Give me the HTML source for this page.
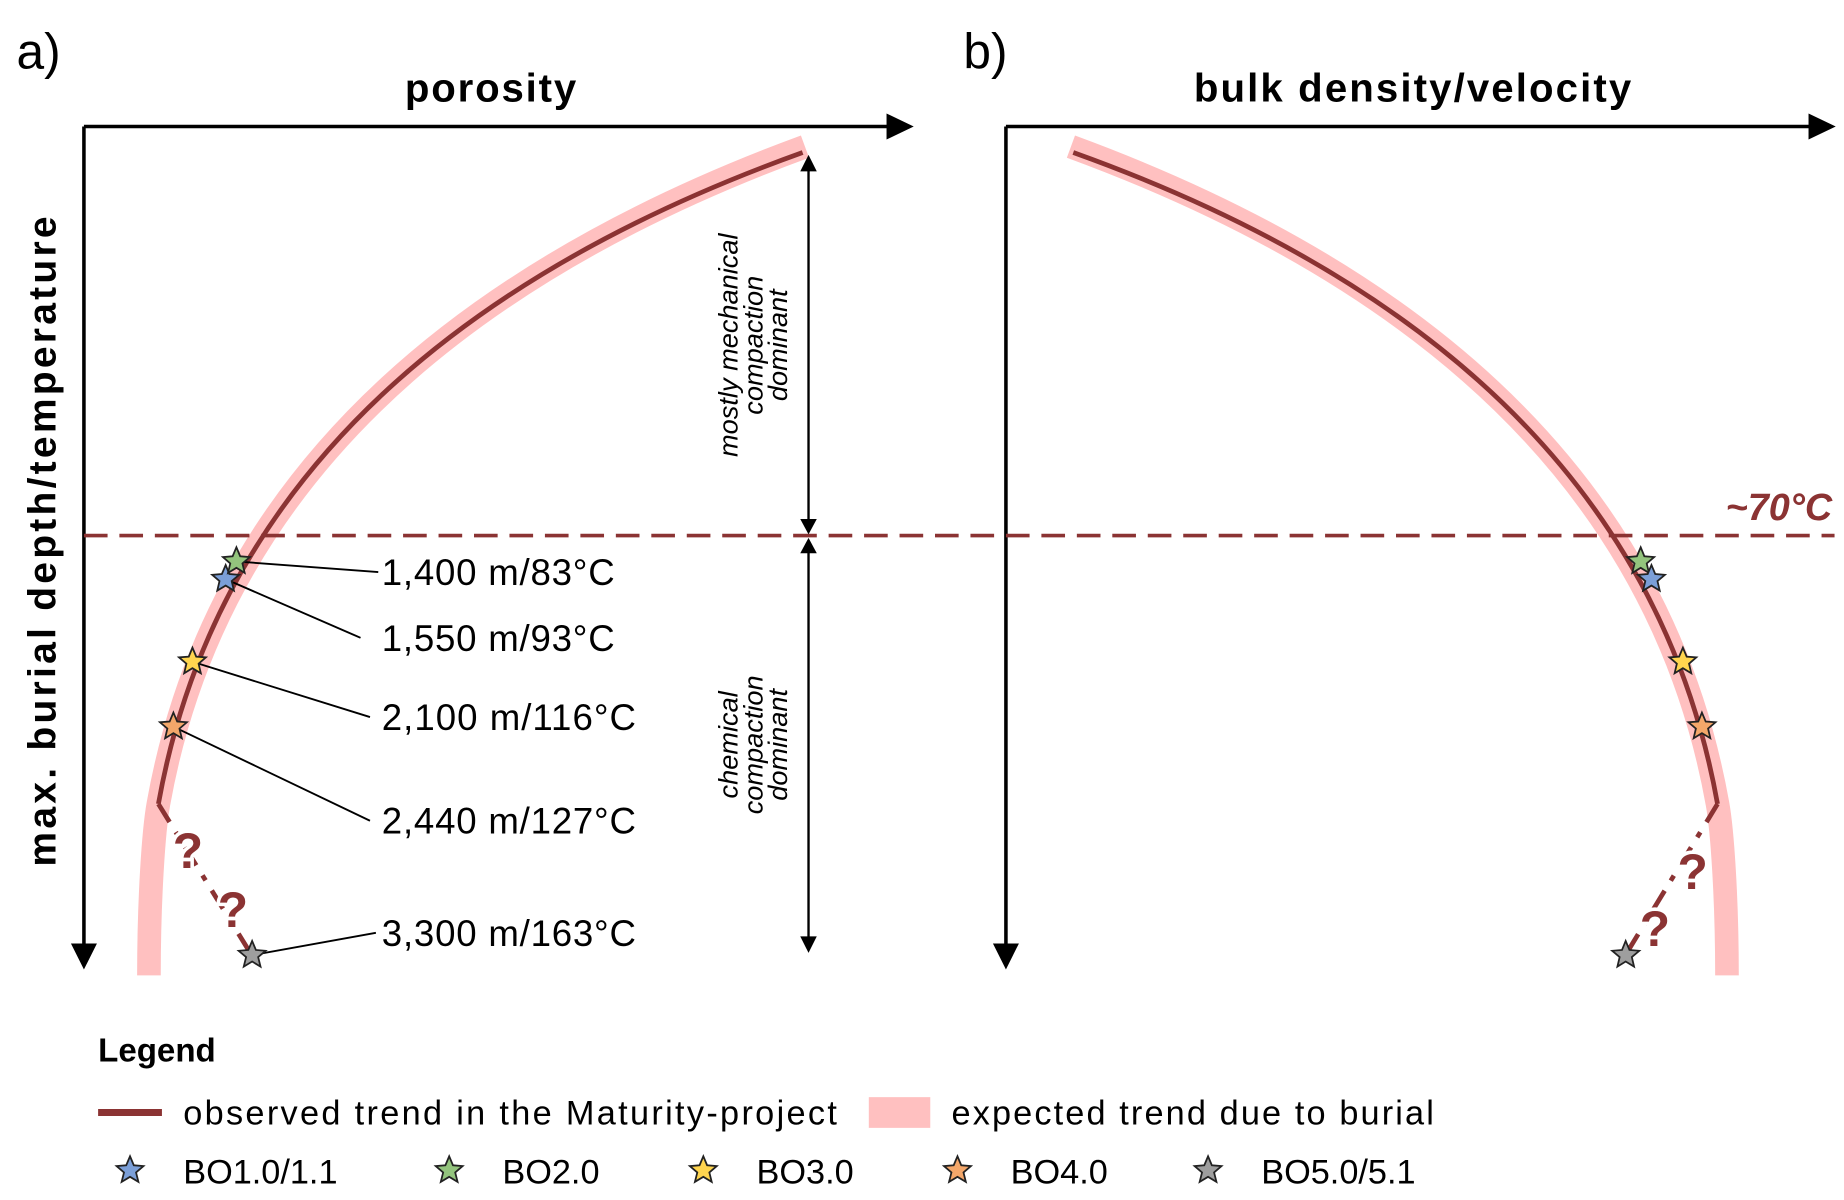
<!DOCTYPE html>
<html><head><meta charset="utf-8">
<style>
html,body{margin:0;padding:0;background:#fff;}
svg{display:block;}
text{font-family:"Liberation Sans",sans-serif;}
</style></head>
<body>
<svg id="chart" width="1844" height="1200" viewBox="0 0 1560 1015" preserveAspectRatio="none" xmlns="http://www.w3.org/2000/svg">
  <text x="14" y="58" font-size="42">a)</text>
  <text x="815" y="58" font-size="42">b)</text>
  <text x="415" y="86" font-size="34" font-weight="bold" text-anchor="middle" textLength="145">porosity</text>
  <text x="1195" y="86" font-size="34" font-weight="bold" text-anchor="middle" textLength="370">bulk density/velocity</text>
  <text transform="translate(47,458) rotate(-90)" font-size="33" font-weight="bold" text-anchor="middle" textLength="550">max. burial depth/temperature</text>

  <g stroke="#000" stroke-width="3" fill="none">
    <line x1="71" y1="107" x2="755" y2="107"/>
    <line x1="71" y1="107" x2="71" y2="802"/>
  </g>
  <polygon points="750,96 773,107 750,118" fill="#000"/>
  <polygon points="60,798 71,820 82,798" fill="#000"/>
  <g stroke="#000" stroke-width="3" fill="none">
    <line x1="851" y1="107" x2="1535" y2="107"/>
    <line x1="851" y1="107" x2="851" y2="802"/>
  </g>
  <polygon points="1530,96 1553,107 1530,118" fill="#000"/>
  <polygon points="840,798 851,820 862,798" fill="#000"/>

  <path id="bandA" stroke="#ffc0c0" stroke-width="20" fill="none"/>
  <path id="bandB" stroke="#ffc0c0" stroke-width="20" fill="none"/>

  <line x1="71" y1="453" x2="1552" y2="453" stroke="#8b3333" stroke-width="3" stroke-dasharray="20,10"/>
  <text x="1550" y="440" font-size="32" font-weight="bold" font-style="italic" fill="#8b3333" text-anchor="end">~70°C</text>

  <path id="obsA" stroke="#8b3333" stroke-width="4" fill="none"/>
  <path d="M134,680 L213,808" stroke="#8b3333" stroke-width="4" fill="none" stroke-dasharray="18,10,5,10"/>
  <path id="obsB" stroke="#8b3333" stroke-width="4" fill="none"/>
  <path d="M1453,680 L1375,808" stroke="#8b3333" stroke-width="4" fill="none" stroke-dasharray="18,10,5,10"/>

  <g font-size="42" font-weight="bold" fill="#8b3333" stroke="#fff" stroke-width="6" paint-order="stroke" text-anchor="middle">
    <text x="159" y="734">?</text>
    <text x="197" y="784">?</text>
    <text x="1432" y="752">?</text>
    <text x="1400" y="800">?</text>
  </g>

  <g stroke="#000" stroke-width="2">
    <line x1="684" y1="140" x2="684" y2="442"/>
    <line x1="684" y1="464" x2="684" y2="795"/>
  </g>
  <polygon points="677,145 684,131 691,145" fill="#000"/>
  <polygon points="677,439 684,452 691,439" fill="#000"/>
  <polygon points="677,468 684,455 691,468" fill="#000"/>
  <polygon points="677,792 684,806 691,792" fill="#000"/>
  <text transform="translate(630,292) rotate(-90)" font-size="23" font-style="italic" text-anchor="middle">
    <tspan x="0" y="-6">mostly mechanical</tspan><tspan x="0" y="15">compaction</tspan><tspan x="0" y="36">dominant</tspan>
  </text>
  <text transform="translate(630,630) rotate(-90)" font-size="23" font-style="italic" text-anchor="middle">
    <tspan x="0" y="-6">chemical</tspan><tspan x="0" y="15">compaction</tspan><tspan x="0" y="36">dominant</tspan>
  </text>

  <g id="marks"></g>

  <text x="83" y="898" font-size="28" font-weight="bold">Legend</text>
  <line x1="83" y1="941" x2="137" y2="941" stroke="#8b3333" stroke-width="6"/>
  <text x="155" y="951" font-size="29" textLength="553">observed trend in the Maturity-project</text>
  <rect x="735" y="928" width="52" height="26" fill="#ffc0c0"/>
  <text x="805" y="951" font-size="29" textLength="408">expected trend due to burial</text>
  <g id="legend-stars"></g>
</svg>
<script>
// data (normalized: x = porosity / density fraction of axis, y = depth fraction of axis)
const wellNames = ['BO1.0/1.1','BO2.0','BO3.0','BO4.0','BO5.0/5.1'];
const wellColors = ['#7b9fd8','#93c47d','#ffd54f','#f4a76a','#9e9e9e'];
const depthLabels = ['1,550 m/93°C','1,400 m/83°C','2,100 m/116°C','2,440 m/127°C','3,300 m/163°C'];
const depthValues = [0.537,0.516,0.635,0.712,0.983];
const porosityValues = [0.171,0.184,0.131,0.108,0.203];
const densityValues = [0.779,0.766,0.817,0.840,0.748];
const labelDepths = [0.622,0.544,0.716,0.839,0.972];

const NS='http://www.w3.org/2000/svg';
function xa(v){return 71+v*701;}
function xb(v){return 851+v*701;}
function yd(v){return 107+v*713;}

// schematic trend shape (panel a); panel b mirrors it
function mx(x,m){return m?1587-x:x;}
function obsPath(m){return 'M'+mx(679,m)+',129 Q'+mx(202,m)+',300 '+mx(134,m)+',680';}
function bandPath(m){return 'M'+mx(681,m)+',124 Q'+mx(202,m)+',300 '+mx(134,m)+',680 C'+mx(130,m)+',702 '+mx(126,m)+',760 '+mx(126,m)+',825';}
document.getElementById('bandA').setAttribute('d',bandPath(false));
document.getElementById('bandB').setAttribute('d',bandPath(true));
document.getElementById('obsA').setAttribute('d',obsPath(false));
document.getElementById('obsB').setAttribute('d',obsPath(true));

function starPts(cx,cy,R){
  const r=R*0.45;let p=[];
  for(let i=0;i<10;i++){const a=-Math.PI/2+i*Math.PI/5;const rr=i%2?r:R;p.push((cx+rr*Math.cos(a)).toFixed(1)+','+(cy+rr*Math.sin(a)).toFixed(1));}
  return p.join(' ');
}
const marks=document.getElementById('marks');
const labelX=[305,320,313,313,318];
for(let i=0;i<wellNames.length;i++){
  const ln=document.createElementNS(NS,'line');
  ln.setAttribute('x1',xa(porosityValues[i]));ln.setAttribute('y1',yd(depthValues[i]));
  ln.setAttribute('x2',labelX[i]);ln.setAttribute('y2',yd(labelDepths[i])-11);
  ln.setAttribute('stroke','#000');ln.setAttribute('stroke-width','1.6');
  
  
  marks.appendChild(ln);
  const t=document.createElementNS(NS,'text');
  t.setAttribute('x',323);t.setAttribute('y',yd(labelDepths[i]));
  t.setAttribute('font-size','31');t.textContent=depthLabels[i];
  t.setAttribute('textLength',depthLabels[i].length>12?215:197);
  
  
  marks.appendChild(t);
}
for(const i of [0,1,2,3,4]){
  const s=document.createElementNS(NS,'polygon');
  s.setAttribute('points',starPts(xa(porosityValues[i]),yd(depthValues[i]),12));
  s.setAttribute('fill',wellColors[i]);s.setAttribute('stroke','#222');s.setAttribute('stroke-width','1.5');
  
  
  marks.appendChild(s);
}
for(const i of [1,0,2,3,4]){
  const s=document.createElementNS(NS,'polygon');
  s.setAttribute('points',starPts(xb(densityValues[i]),yd(depthValues[i]),12));
  s.setAttribute('fill',wellColors[i]);s.setAttribute('stroke','#222');s.setAttribute('stroke-width','1.5');
  
  
  marks.appendChild(s);
}
const lg=document.getElementById('legend-stars');
const legX=[110,380,595,810,1022];
for(let i=0;i<wellNames.length;i++){
  const s=document.createElementNS(NS,'polygon');
  s.setAttribute('points',starPts(legX[i],990,12));
  s.setAttribute('fill',wellColors[i]);s.setAttribute('stroke','#222');s.setAttribute('stroke-width','1.5');
  
  
  lg.appendChild(s);
  const t=document.createElementNS(NS,'text');
  t.setAttribute('x',legX[i]+45);t.setAttribute('y',1001);t.setAttribute('font-size','29');
  t.textContent=wellNames[i];
  
  
  lg.appendChild(t);
}
</script>
</body></html>
